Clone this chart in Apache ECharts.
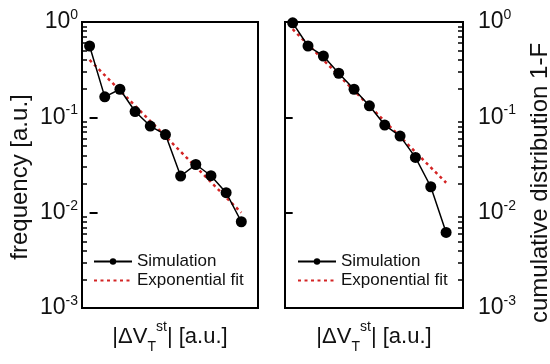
<!DOCTYPE html>
<html>
<head>
<meta charset="utf-8">
<script src="https://cdn.jsdelivr.net/npm/echarts@6/dist/echarts.min.js"></script>
<style>html,body{margin:0;padding:0;background:#fff;}#c{width:550px;height:364px;}</style>
</head>
<body>
<div id="c"></div>
<script>
// ---- data ----
var xIndex = [0, 1, 2, 3, 4, 5, 6, 7, 8, 9, 10];
var freqSim = [0.56, 0.164, 0.197, 0.115, 0.081, 0.066, 0.0242, 0.032, 0.0244, 0.0162, 0.00803];
var freqFitX = [0, 10];
var freqFitY = [0.40, 0.0100];
var cumSim = [0.98, 0.56, 0.44, 0.29, 0.197, 0.132, 0.083, 0.0636, 0.038, 0.0187, 0.0062];
var cumFitX = [0, 10];
var cumFitY = [0.84, 0.0206];
var majorTicks = [0.001, 0.01, 0.1, 1];
var minorTicks = [0.002,0.003,0.004,0.005,0.006,0.007,0.008,0.009,
                  0.02,0.03,0.04,0.05,0.06,0.07,0.08,0.09,
                  0.2,0.3,0.4,0.5,0.6,0.7,0.8,0.9];
var seriesNames = ['Simulation', 'Exponential fit'];
var yNames = ['frequency [a.u.]', 'cumulative distribution 1-F'];

// ---- chart ----
var FONT = '"Liberation Sans", Arial, sans-serif';
var RED = '#d42424';
function pairs(xs, ys){ return xs.map(function(x,i){ return [x, ys[i]]; }); }
function expLabel(v){ var e = Math.round(Math.log10(v)); return '{b|10}{s|' + e + '}'; }
var labelRich = {
  b: {fontSize: 23, fontFamily: FONT, color: '#111', lineHeight: 28},
  s: {fontSize: 14, fontFamily: FONT, color: '#111', lineHeight: 28, verticalAlign: 'top'}
};
var xName = '{n||\u0394V}{sub|T}{sup|st}{n|| [a.u.]}';
var xRich = {
  n: {fontSize: 22, fontFamily: FONT, color: '#111', lineHeight: 34},
  sub: {fontSize: 14, fontFamily: FONT, color: '#111', lineHeight: 34, verticalAlign: 'bottom'},
  sup: {fontSize: 14, fontFamily: FONT, color: '#111', lineHeight: 34, verticalAlign: 'top'}
};
function xAxisDef(gi){
  return {
    type: 'value', gridIndex: gi, min: -0.5, max: 11.1,
    axisLine: {show: false}, axisTick: {show: false}, axisLabel: {show: false}, splitLine: {show: false},
    name: xName, nameLocation: 'middle', nameGap: 12,
    nameTextStyle: {rich: xRich, verticalAlign: 'top'}
  };
}
function yMajor(gi, pos, margin){
  return {
    type: 'log', gridIndex: gi, min: 0.001, max: 1, position: pos,
    axisLine: {show: false}, splitLine: {show: false},
    axisTick: {show: true, inside: true, length: 8, lineStyle: {color: '#000', width: 2}, customValues: majorTicks},
    axisLabel: {show: true, margin: margin, formatter: expLabel, rich: labelRich, customValues: majorTicks}
  };
}
function yMinor(gi, pos){
  return {
    type: 'log', gridIndex: gi, min: 0.001, max: 1, position: pos,
    axisLine: {show: false}, splitLine: {show: false},
    axisTick: {show: true, inside: true, length: 5, lineStyle: {color: '#000', width: 1.5}, customValues: minorTicks},
    axisLabel: {show: true, customValues: minorTicks, formatter: function(){ return ''; }, color: 'rgba(0,0,0,0)'}
  };
}
function simSeries(gi, data){
  return {
    name: seriesNames[0], type: 'line', xAxisIndex: gi, yAxisIndex: gi * 2, z: 3,
    data: pairs(xIndex, data), symbol: 'circle', symbolSize: 11, showSymbol: true,
    lineStyle: {color: '#000', width: 1.5}, itemStyle: {color: '#000'}
  };
}
function fitSeries(gi, xs, ys){
  return {
    name: seriesNames[1], type: 'line', xAxisIndex: gi, yAxisIndex: gi * 2, z: 2,
    data: pairs(xs, ys), symbol: 'none', showSymbol: false,
    lineStyle: {color: RED, width: 2.5, type: [3, 3.5]}, itemStyle: {color: RED}
  };
}
function legendDef(left){
  return {
    data: [{name: seriesNames[0]}, {name: seriesNames[1], itemStyle: {opacity: 0}}],
    orient: 'vertical', left: left, top: 253, padding: 0,
    itemWidth: 38, itemHeight: 8, itemGap: 2,
    textStyle: {fontSize: 17, fontFamily: FONT, color: '#111'}
  };
}
var option = {
  animation: false,
  backgroundColor: '#fff',
  grid: [
    {left: 82, right: 292, top: 22, bottom: 56, show: true, borderColor: '#000', borderWidth: 2},
    {left: 285, right: 87, top: 22, bottom: 56, show: true, borderColor: '#000', borderWidth: 2}
  ],
  xAxis: [xAxisDef(0), xAxisDef(1)],
  yAxis: [yMajor(0, 'left', 4), yMinor(0, 'left'), yMajor(1, 'right', 15), yMinor(1, 'right')],
  legend: [legendDef(93), legendDef(297)],
  series: [
    simSeries(0, freqSim), fitSeries(0, freqFitX, freqFitY),
    simSeries(1, cumSim), fitSeries(1, cumFitX, cumFitY)
  ],
  graphic: [
    {type: 'text', x: 20, y: 177, rotation: Math.PI / 2,
     style: {text: yNames[0], font: '24px ' + FONT, fill: '#111', align: 'center', verticalAlign: 'middle'}},
    {type: 'text', x: 540, y: 183, rotation: Math.PI / 2,
     style: {text: yNames[1], font: '24px ' + FONT, fill: '#111', align: 'center', verticalAlign: 'middle'}}
  ]
};
var chart = echarts.init(document.getElementById('c'), null, {renderer: 'canvas'});
chart.setOption(option);
</script>
</body>
</html>
